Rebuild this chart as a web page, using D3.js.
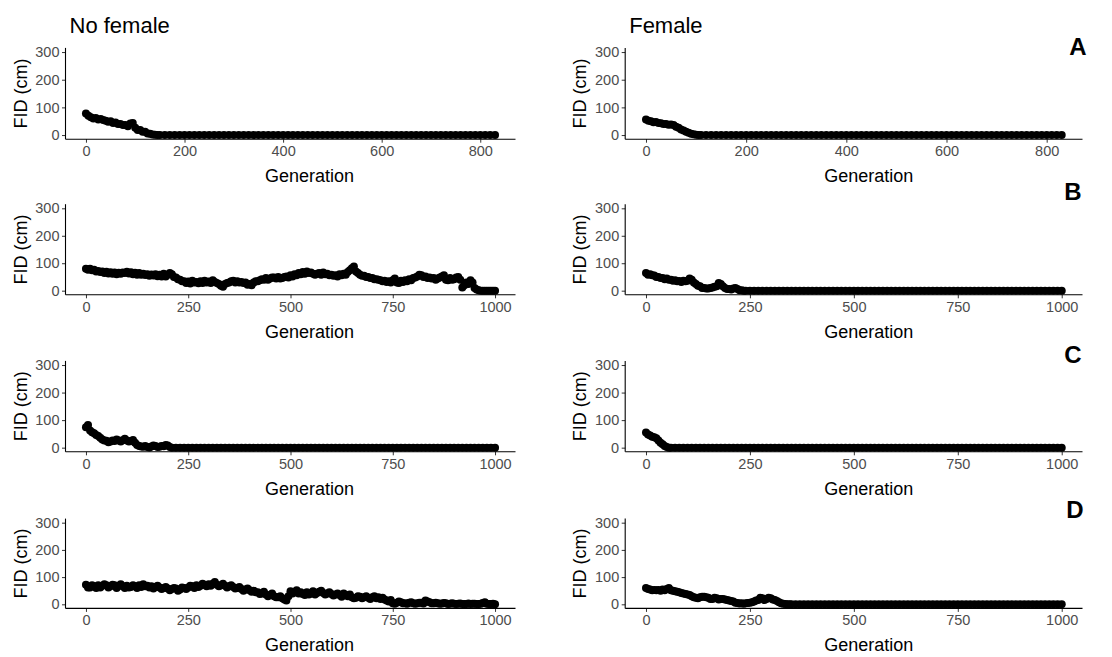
<!DOCTYPE html>
<html><head><meta charset="utf-8">
<script src="https://cdn.jsdelivr.net/npm/d3@7"></script>
<style>body{margin:0;background:#fff}svg{display:block}</style>
</head><body><svg id="c" width="1112" height="657"></svg>
<script>
// ---------- data ----------
const gensA = d3.range(0, 831, 10);      // generations sampled, scenario A
const gensBCD = d3.range(0, 1001, 10);   // generations sampled, scenarios B-D
const xTicksA = [0, 200, 400, 600, 800];
const xTicksBCD = [0, 250, 500, 750, 1000];
const yTicks = [0, 100, 200, 300];
const colTitles = ["No female", "Female"];
const rowLabels = ["A", "B", "C", "D"];
const yLabel = "FID (cm)";
const xLabel = "Generation";

const fidA_noFemale = [
  78,64,62,58,52,50,45,40,36,42,26,18,12,5,1,0,0,0,0,0,
  0,0,0,0,0,0,0,0,0,0,0,0,0,0,0,0,0,0,0,0,
  0,0,0,0,0,0,0,0,0,0,0,0,0,0,0,0,0,0,0,0,
  0,0,0,0,0,0,0,0,0,0,0,0,0,0,0,0,0,0,0,0,
  0,0,0,0];
const fidA_female = [
  56,50,47,43,40,38,30,20,12,5,1,0,0,0,0,0,0,0,0,0,
  0,0,0,0,0,0,0,0,0,0,0,0,0,0,0,0,0,0,0,0,
  0,0,0,0,0,0,0,0,0,0,0,0,0,0,0,0,0,0,0,0,
  0,0,0,0,0,0,0,0,0,0,0,0,0,0,0,0,0,0,0,0,
  0,0,0,0];
const fidB_noFemale = [
  80,80,76,72,70,69,67,66,65,66,
  69,67,65,64,62,60,59,60,58,62,
  58,60,48,40,34,33,36,32,34,36,
  33,38,28,18,24,30,36,34,32,30,
  24,30,34,42,46,44,48,50,46,52,
  56,60,64,68,70,66,58,64,66,62,
  58,56,60,62,68,82,70,58,54,50,
  46,42,38,36,34,38,30,36,38,42,
  46,52,56,52,48,46,44,52,40,46,
  42,50,12,30,38,10,2,0,0,0,
  0];
const fidB_female = [
  64,60,55,50,46,44,40,38,35,36,
  36,40,24,16,10,8,12,16,24,10,
  6,8,6,2,0,0,0,0,0,0,
  0,0,0,0,0,0,0,0,0,0,
  0,0,0,0,0,0,0,0,0,0,
  0,0,0,0,0,0,0,0,0,0,
  0,0,0,0,0,0,0,0,0,0,
  0,0,0,0,0,0,0,0,0,0,
  0,0,0,0,0,0,0,0,0,0,
  0,0,0,0,0,0,0,0,0,0,
  0];
const fidC_noFemale = [
  74,62,52,42,30,25,22,24,26,27,
  26,24,18,6,3,2,4,6,3,5,
  8,0,0,0,0,0,0,0,0,0,
  0,0,0,0,0,0,0,0,0,0,
  0,0,0,0,0,0,0,0,0,0,
  0,0,0,0,0,0,0,0,0,0,
  0,0,0,0,0,0,0,0,0,0,
  0,0,0,0,0,0,0,0,0,0,
  0,0,0,0,0,0,0,0,0,0,
  0,0,0,0,0,0,0,0,0,0,
  0];
const fidC_female = [
  55,44,38,26,12,2,0,0,0,0,
  0,0,0,0,0,0,0,0,0,0,
  0,0,0,0,0,0,0,0,0,0,
  0,0,0,0,0,0,0,0,0,0,
  0,0,0,0,0,0,0,0,0,0,
  0,0,0,0,0,0,0,0,0,0,
  0,0,0,0,0,0,0,0,0,0,
  0,0,0,0,0,0,0,0,0,0,
  0,0,0,0,0,0,0,0,0,0,
  0,0,0,0,0,0,0,0,0,0,
  0];
const fidD_noFemale = [
  72,62,66,70,68,70,66,70,68,66,
  68,64,66,70,74,68,66,64,62,60,
  58,56,58,54,60,62,66,70,68,72,
  74,76,72,70,68,66,64,60,56,54,
  52,50,44,40,36,34,30,26,22,14,
  48,44,40,38,44,40,36,46,42,40,
  38,36,34,40,30,26,24,28,26,24,
  26,22,20,18,10,4,6,8,4,6,
  4,4,6,14,8,4,4,3,4,2,
  2,2,1,1,1,2,1,5,2,1,
  0];
const fidD_female = [
  60,54,53,53,54,56,52,48,44,40,
  36,30,24,26,28,24,20,22,20,18,
  14,10,5,4,4,6,10,16,22,20,
  22,16,8,2,0,0,0,0,0,0,
  0,0,0,0,0,0,0,0,0,0,
  0,0,0,0,0,0,0,0,0,0,
  0,0,0,0,0,0,0,0,0,0,
  0,0,0,0,0,0,0,0,0,0,
  0,0,0,0,0,0,0,0,0,0,
  0,0,0,0,0,0,0,0,0,0,
  0];

const gensMidBCD = d3.range(5, 1000, 10);
const midB_noFemale = [
  76,74,70,68,64,63,62,60,62,64,
  63,60,58,58,57,54,55,53,52,52,
  64,50,42,34,28,26,30,27,28,30,
  28,32,24,14,28,34,30,30,28,22,
  20,34,38,40,40,48,44,44,50,48,
  52,56,60,62,64,62,62,58,60,56,
  54,52,56,58,74,88,64,54,50,46,
  42,40,34,32,30,44,28,32,34,38,
  48,58,50,46,44,40,48,56,38,40,
  48,40,20,24,30,4,0,0,0,0];
const midD_noFemale = [
  62,70,60,62,74,62,72,60,74,60,
  62,70,60,64,66,62,58,68,56,64,
  52,60,50,62,56,68,60,64,76,66,
  68,82,66,76,62,70,58,64,50,58,
  46,44,38,46,30,40,26,30,18,30,
  40,52,44,34,36,48,42,50,36,44,
  32,40,28,34,36,22,30,22,30,20,
  30,26,24,14,16,2,10,4,2,8,
  2,6,3,10,4,6,2,5,1,4,
  1,3,1,3,2,1,2,8,1,2];
const gensMidA_noFemale = d3.range(5, 150, 10);
const midA_noFemale = [70,60,56,54,48,44,40,36,32,44,18,12,6,2,0];
const gensMidA_female = d3.range(5, 110, 10);
const midA_female = [52,46,44,40,37,36,26,16,8,3,0];
const gensMidB_female = d3.range(5, 240, 10);
const midB_female = [58,56,50,46,42,40,36,34,32,34,44,30,18,10,8,10,14,28,16,6,4,10,2,0];
const gensMidC_noFemale = d3.range(5, 210, 10);
const midC_noFemale = [82,56,46,36,26,20,26,30,22,32,22,28,10,4,6,1,8,2,6,10,2];
const gensMidC_female = d3.range(5, 60, 10);
const midC_female = [48,40,34,18,6,0];
const gensMidD_female = d3.range(5, 350, 10);
const midD_female = [56,52,52,50,52,60,50,46,42,38,34,26,22,28,26,20,24,18,20,16,12,6,3,2,5,8,14,24,16,24,18,12,4,1,0];

// ---------- layout ----------
const svg = d3.select("#c");
svg.append("rect").attr("width",1112).attr("height",657).attr("fill","#fff");
const colX = [[65.5, 515.5], [625.2, 1082.5]];
const rowY = [[139.2, 47.9], [294.8, 204.2], [451.8, 360.9], [608.4, 518.6]];
const labelPos = [[1078, 55], [1073, 200], [1073, 363], [1075, 518]];
const genOffset = [19, 15];
const FONT = "'Liberation Sans', Arial, sans-serif";

const panels = [
  {row:0, col:0, xd:[-41.5, 871.5], ticks:xTicksA,
   series:[[gensA, fidA_noFemale], [gensMidA_noFemale, midA_noFemale]]},
  {row:0, col:1, xd:[-41.5, 871.5], ticks:xTicksA,
   series:[[gensA, fidA_female], [gensMidA_female, midA_female]]},
  {row:1, col:0, xd:[-50, 1050], ticks:xTicksBCD,
   series:[[gensBCD, fidB_noFemale], [gensMidBCD, midB_noFemale]]},
  {row:1, col:1, xd:[-50, 1050], ticks:xTicksBCD,
   series:[[gensBCD, fidB_female], [gensMidB_female, midB_female]]},
  {row:2, col:0, xd:[-50, 1050], ticks:xTicksBCD,
   series:[[gensBCD, fidC_noFemale], [gensMidC_noFemale, midC_noFemale]]},
  {row:2, col:1, xd:[-50, 1050], ticks:xTicksBCD,
   series:[[gensBCD, fidC_female], [gensMidC_female, midC_female]]},
  {row:3, col:0, xd:[-50, 1050], ticks:xTicksBCD,
   series:[[gensBCD, fidD_noFemale], [gensMidBCD, midD_noFemale]]},
  {row:3, col:1, xd:[-50, 1050], ticks:xTicksBCD,
   series:[[gensBCD, fidD_female], [gensMidD_female, midD_female]]},
];

panels.forEach(p => {
  const x = d3.scaleLinear().domain(p.xd).range(colX[p.col]);
  const y = d3.scaleLinear().domain([-15, 315]).range(rowY[p.row]);
  const g = svg.append("g");
  const x0 = colX[p.col][0], y0 = rowY[p.row][0];

  // points
  const pts = [];
  p.series.forEach(([gens, vals]) => gens.forEach((gen, i) => pts.push({gen, v: vals[i]})));
  g.append("g").selectAll("circle").data(pts).join("circle")
    .attr("cx", d => x(d.gen)).attr("cy", d => y(d.v))
    .attr("r", 4).attr("fill", "#000");

  // y axis
  const ya = g.append("g").attr("transform", `translate(${x0},0)`)
    .call(d3.axisLeft(y).tickValues(yTicks).tickFormat(d3.format("d"))
      .tickSize(3.5).tickPadding(2.5));
  // x axis
  const xa = g.append("g").attr("transform", `translate(0,${y0})`)
    .call(d3.axisBottom(x).tickValues(p.ticks).tickFormat(d3.format("d"))
      .tickSize(3.5).tickPadding(3));
  [ya, xa].forEach(a => {
    a.select(".domain").remove();
    a.selectAll(".tick line").attr("stroke", "#333").attr("stroke-width", 1);
    a.selectAll(".tick text").attr("fill", "#4D4D4D").attr("font-size", 14.5)
      .attr("font-family", FONT);
  });
  // axis lines (classic theme)
  g.append("line").attr("x1", x0).attr("x2", x0)
    .attr("y1", rowY[p.row][1]).attr("y2", y0)
    .attr("stroke", "#000").attr("stroke-width", 1.1);
  g.append("line").attr("x1", x0).attr("x2", colX[p.col][1])
    .attr("y1", y0).attr("y2", y0)
    .attr("stroke", "#000").attr("stroke-width", 1.1);

  // axis titles
  g.append("text").attr("x", (colX[p.col][0] + colX[p.col][1]) / 2 + genOffset[p.col])
    .attr("y", y0 + 43).attr("text-anchor", "middle")
    .attr("font-family", FONT).attr("font-size", 18).attr("fill", "#000")
    .text(xLabel);
  const cy = (rowY[p.row][0] + rowY[p.row][1]) / 2;
  g.append("text").attr("transform", `translate(${x0 - 39},${cy}) rotate(-90)`)
    .attr("text-anchor", "middle")
    .attr("font-family", FONT).attr("font-size", 18).attr("fill", "#000")
    .text(yLabel);
});

// column titles
colTitles.forEach((t, i) => {
  svg.append("text").attr("x", colX[i][0] + 4).attr("y", 33)
    .attr("font-family", FONT).attr("font-size", 22).attr("fill", "#000").text(t);
});
// row labels
rowLabels.forEach((t, i) => {
  svg.append("text").attr("x", labelPos[i][0]).attr("y", labelPos[i][1])
    .attr("text-anchor", "middle")
    .attr("font-family", FONT).attr("font-weight", "bold")
    .attr("font-size", 24).attr("fill", "#000").text(t);
});
</script></body></html>
